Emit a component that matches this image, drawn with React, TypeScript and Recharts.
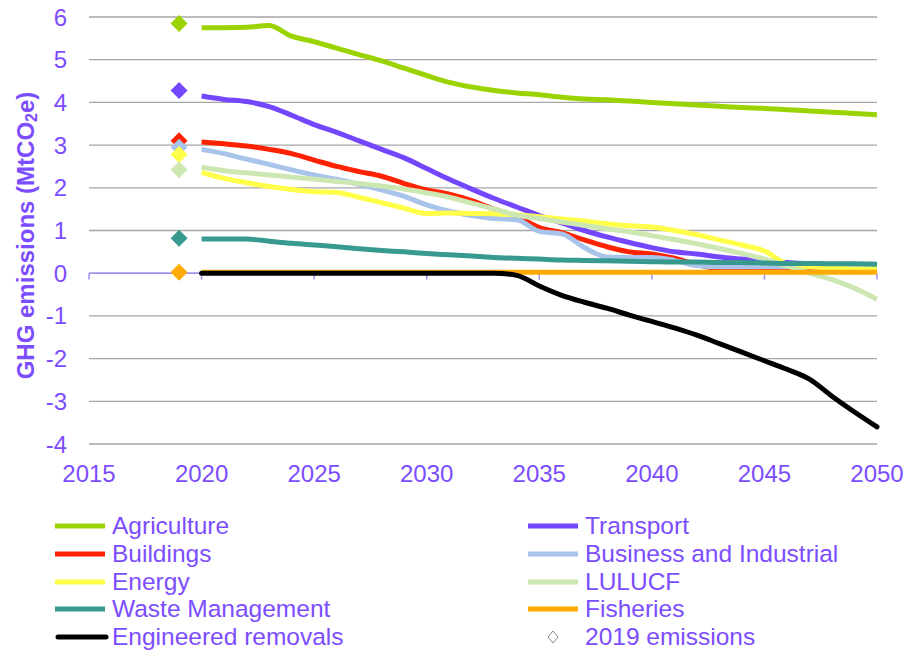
import React from "react";
import {
  ComposedChart,
  Line,
  Scatter,
  XAxis,
  YAxis,
  CartesianGrid,
  ReferenceLine,
  Legend,
} from "recharts";

const years = [
  2020, 2021, 2022, 2023, 2024, 2025, 2026, 2027, 2028, 2029, 2030, 2031, 2032, 2033, 2034, 2035,
  2036, 2037, 2038, 2039, 2040, 2041, 2042, 2043, 2044, 2045, 2046, 2047, 2048, 2049, 2050,
];

const agriculture = [
  5.75, 5.75, 5.76, 5.8, 5.55, 5.42, 5.27, 5.12, 4.97, 4.8, 4.63, 4.47, 4.36, 4.28, 4.22, 4.18,
  4.12, 4.08, 4.06, 4.03, 4.0, 3.97, 3.94, 3.91, 3.88, 3.86, 3.83, 3.8, 3.77, 3.74, 3.71,
];
const transport = [
  4.15, 4.07, 4.02, 3.9, 3.7, 3.48, 3.3, 3.1, 2.9, 2.7, 2.45, 2.2, 1.97, 1.75, 1.55, 1.35,
  1.18, 1.0, 0.85, 0.72, 0.6, 0.5, 0.45, 0.38, 0.33, 0.28, 0.25, 0.22, 0.2, 0.2, 0.2,
];
const buildings = [
  3.07, 3.03, 2.98, 2.9, 2.8, 2.65, 2.5, 2.38, 2.27, 2.1, 1.95, 1.85, 1.7, 1.5, 1.33, 1.07,
  0.95, 0.78, 0.62, 0.5, 0.45, 0.35, 0.2, 0.1, 0.07, 0.06, 0.05, 0.05, 0.05, 0.05, 0.05,
];
const business = [
  2.9, 2.8, 2.67, 2.55, 2.42, 2.3, 2.2, 2.08, 1.95, 1.8, 1.6, 1.45, 1.35, 1.28, 1.25, 0.98,
  0.92, 0.6, 0.38, 0.37, 0.37, 0.3, 0.18, 0.15, 0.15, 0.15, 0.15, 0.15, 0.15, 0.15, 0.15,
];
const energy = [
  2.36, 2.22, 2.12, 2.03, 1.96, 1.91, 1.89, 1.78, 1.65, 1.52, 1.4, 1.41, 1.4, 1.39, 1.37, 1.32,
  1.27, 1.22, 1.16, 1.11, 1.08, 1.0, 0.9, 0.78, 0.66, 0.52, 0.22, 0.15, 0.12, 0.1, 0.1,
];
const lulucf = [
  2.48, 2.4, 2.35, 2.3, 2.25, 2.2, 2.15, 2.1, 2.04, 1.97, 1.88, 1.78, 1.64, 1.5, 1.36, 1.28,
  1.2, 1.12, 1.04, 0.97, 0.88, 0.79, 0.69, 0.58, 0.46, 0.33, 0.17, 0.0, -0.15, -0.35, -0.61,
];
const waste = [
  0.8, 0.8, 0.8, 0.75, 0.7, 0.66, 0.62, 0.57, 0.53, 0.5, 0.46, 0.43, 0.4, 0.37, 0.35, 0.33,
  0.31, 0.3, 0.29, 0.28, 0.27, 0.26, 0.26, 0.25, 0.25, 0.24, 0.23, 0.23, 0.22, 0.22, 0.21,
];
const fisheries = [
  0.02, 0.02, 0.02, 0.02, 0.02, 0.02, 0.02, 0.02, 0.02, 0.02, 0.02, 0.02, 0.02, 0.02, 0.02, 0.02,
  0.02, 0.02, 0.02, 0.02, 0.02, 0.02, 0.02, 0.02, 0.02, 0.02, 0.02, 0.02, 0.02, 0.02, 0.02,
];
const engineered = [
  0, 0, 0, 0, 0, 0, 0, 0, 0, 0, 0, 0, 0, 0, -0.05, -0.3,
  -0.52, -0.68, -0.82, -0.98, -1.13, -1.28, -1.45, -1.65, -1.85, -2.05, -2.25, -2.48, -2.88, -3.25, -3.6,
];

const seriesNames = [
  "Agriculture",
  "Transport",
  "Buildings",
  "Business and Industrial",
  "Energy",
  "LULUCF",
  "Waste Management",
  "Fisheries",
  "Engineered removals",
];
const seriesColors = [
  "#9BD300",
  "#7447FF",
  "#FF2200",
  "#A8C4EA",
  "#FFFF4A",
  "#CDE7B2",
  "#389A8F",
  "#FFAA00",
  "#000000",
];
const seriesValues = [agriculture, transport, buildings, business, energy, lulucf, waste, fisheries, engineered];

// 2019 emissions (diamonds)
const emissions2019Year = 2019;
const emissions2019 = [5.85, 4.28, 3.1, 2.95, 2.78, 2.42, 0.82, 0.02];

const xTicks = [2015, 2020, 2025, 2030, 2035, 2040, 2045, 2050];
const yTicks = [-4, -3, -2, -1, 0, 1, 2, 3, 4, 5, 6];

const chartData = years.map((year, i) => {
  const row: Record<string, number> = { year };
  seriesNames.forEach((name, s) => {
    row[name] = seriesValues[s][i];
  });
  return row;
});

const diamondData = emissions2019.map((v, i) => ({
  year: emissions2019Year,
  value: v,
  color: seriesColors[i],
}));

const PURPLE = "#7C4DFF";
const FONT = "'Liberation Sans', Arial, sans-serif";

const Diamond = (props: any) => {
  const { cx, cy, payload } = props;
  if (cx == null || cy == null) return null;
  const r = 8.5;
  return (
    <polygon
      points={`${cx},${cy - r} ${cx + r},${cy} ${cx},${cy + r} ${cx - r},${cy}`}
      fill={payload.color}
    />
  );
};

const YLabel = (props: any) => {
  const vb = props.viewBox || {};
  const cx = 25;
  const cy = (vb.y ?? 17) + (vb.height ?? 427) / 2 + 5;
  return (
    <text
      x={cx}
      y={cy}
      transform={`rotate(-90, ${cx}, ${cy})`}
      textAnchor="middle"
      dominantBaseline="central"
      fill={PURPLE}
      fontFamily={FONT}
      fontWeight="bold"
      fontSize={24}
    >
      GHG emissions (MtCO
      <tspan dy={6} fontSize={16}>
        2
      </tspan>
      <tspan dy={-6}>e)</tspan>
    </text>
  );
};

const LegendContent = () => {
  const items = seriesNames.map((name, i) => ({ name, color: seriesColors[i], type: "line" as const }));
  const all = [...items, { name: "2019 emissions", color: "#888888", type: "diamond" as const }];
  return (
    <div style={{ position: "relative", width: 914, height: 140, fontFamily: FONT }}>
      {all.map((it, i) => {
        const col = i % 2;
        const row = Math.floor(i / 2);
        const left = col === 0 ? 55 : 528;
        const isRound = it.name === "Engineered removals";
        return (
          <div
            key={it.name}
            style={{
              position: "absolute",
              left,
              top: row * 27.8,
              height: 28,
              display: "flex",
              alignItems: "center",
              whiteSpace: "nowrap",
            }}
          >
            <svg width={54} height={14} style={{ display: "block" }}>
              {it.type === "line" ? (
                <line
                  x1={isRound ? 3 : 0}
                  x2={isRound ? 51 : 50}
                  y1={7}
                  y2={7}
                  stroke={it.color}
                  strokeWidth={5}
                  strokeLinecap={isRound ? "round" : "butt"}
                />
              ) : (
                <polygon points="25,1 30,7 25,13 20,7" fill="none" stroke={it.color} strokeWidth={1} />
              )}
            </svg>
            <span style={{ color: PURPLE, fontSize: 24.5, marginLeft: 3, lineHeight: "28px" }}>{it.name}</span>
          </div>
        );
      })}
    </div>
  );
};

export default function App() {
  return (
    <div style={{ position: "absolute", left: 0, top: 0, width: 914, height: 655, background: "#fff" }}>
      <ComposedChart
        width={914}
        height={655}
        data={chartData}
        margin={{ top: 17, right: 37, left: 0, bottom: 26 }}
      >
        <CartesianGrid horizontal vertical={false} stroke="#A6A6A6" strokeWidth={1.3} />
        <XAxis
          dataKey="year"
          type="number"
          domain={[2015, 2050]}
          ticks={xTicks}
          axisLine={false}
          tickLine={false}
          tickSize={0}
          tickMargin={21}
          height={45}
          tick={{ fill: PURPLE, fontSize: 24, fontFamily: FONT }}
          interval={0}
        />
        <YAxis
          type="number"
          domain={[-4, 6]}
          ticks={yTicks}
          width={89}
          axisLine={false}
          tickLine={false}
          tickSize={0}
          tickMargin={22}
          tick={{ fill: PURPLE, fontSize: 24, fontFamily: FONT }}
          interval={0}
          label={<YLabel />}
        />
        <ReferenceLine y={0} stroke="#A28EFA" strokeWidth={1.5} />
        {xTicks.map((t) => (
          <ReferenceLine
            key={t}
            segment={[
              { x: t, y: 0 },
              { x: t, y: -0.15 },
            ]}
            stroke="#A28EFA"
            strokeWidth={1.5}
          />
        ))}
        {seriesNames.map((name, i) => (
          <Line
            key={name}
            type="monotone"
            dataKey={name}
            stroke={seriesColors[i]}
            strokeWidth={5}
            strokeLinecap={name === "Engineered removals" ? "round" : "butt"}
            dot={false}
            activeDot={false}
            isAnimationActive={false}
            legendType="none"
          />
        ))}
        <Scatter
          data={diamondData}
          dataKey="value"
          shape={<Diamond />}
          isAnimationActive={false}
          legendType="none"
        />
        <Legend
          content={<LegendContent />}
          verticalAlign="bottom"
          wrapperStyle={{ top: 512, left: 0, width: 914, height: 140 }}
        />
      </ComposedChart>
    </div>
  );
}
